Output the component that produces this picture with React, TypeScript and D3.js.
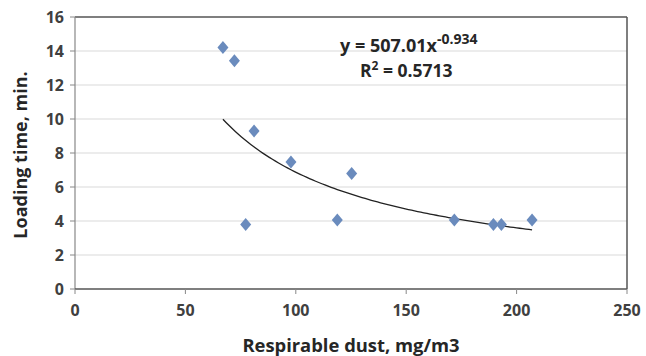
import React from "react";
import * as d3 from "d3";

const dustX = [67.0, 72.2, 81.1, 97.8, 77.3, 125.3, 118.8, 171.8, 189.5, 193.1, 207.0];
const loadY = [14.2, 13.43, 9.29, 7.47, 3.8, 6.8, 4.06, 4.06, 3.8, 3.8, 4.06];
const xTicks = [0, 50, 100, 150, 200, 250];
const yTicks = [0, 2, 4, 6, 8, 10, 12, 14, 16];
const fitA = 507.01;
const fitB = -0.934;

const W = 646, H = 356;
const FONT = "'Open Sans', Lato, sans-serif";

export default function App() {
  const x = d3.scaleLinear().domain([0, 250]).range([75, 627]);
  const y = d3.scaleLinear().domain([0, 16]).range([289, 17]);
  const xmin = d3.min(dustX)!, xmax = d3.max(dustX)!;
  const fitPts = d3.range(0, 101).map(i => {
    const xv = xmin + (xmax - xmin) * i / 100;
    return [xv, fitA * Math.pow(xv, fitB)] as [number, number];
  });
  const line = d3.line<[number, number]>().x(d => x(d[0])).y(d => y(d[1])).curve(d3.curveLinear);
  const diamond = (cx: number, cy: number) => `M${cx},${cy - 6.5}L${cx + 5.5},${cy}L${cx},${cy + 6.5}L${cx - 5.5},${cy}Z`;
  return (
    <svg width={W} height={H} style={{ position: "absolute", left: 0, top: 0, background: "#fff" }}>
      <rect x={0} y={0} width={W} height={H} fill="#fff" />
      {yTicks.filter(t => t > 0).map(t => (
        <line key={"g" + t} x1={x(0)} x2={x(250)} y1={y(t)} y2={y(t)} stroke={t === 16 ? "#555" : "#d9d9d9"} strokeWidth={t === 16 ? 1.5 : 1} />
      ))}
      <line x1={x(250)} x2={x(250)} y1={y(16)} y2={y(0)} stroke="#555" strokeWidth={1.5} />
      <line x1={x(0)} x2={x(0)} y1={y(16)} y2={y(0)} stroke="#888" strokeWidth={1.2} />
      <line x1={x(0)} x2={x(250)} y1={y(0)} y2={y(0)} stroke="#555" strokeWidth={1.5} />
      {yTicks.map(t => (
        <g key={"y" + t}>
          <line x1={x(0) - 5} x2={x(0)} y1={y(t)} y2={y(t)} stroke="#888" />
          <text x={x(0) - 11} y={y(t)} dy="0.36em" textAnchor="end" fontFamily={FONT} fontWeight="bold" fontSize={16} fill="#404040">{t}</text>
        </g>
      ))}
      {xTicks.map(t => (
        <g key={"x" + t}>
          <line x1={x(t)} x2={x(t)} y1={y(0)} y2={y(0) + 5} stroke="#888" />
          <text x={x(t)} y={y(0) + 27} textAnchor="middle" fontFamily={FONT} fontWeight="bold" fontSize={16} fill="#404040">{t}</text>
        </g>
      ))}
      <path d={line(fitPts)!} fill="none" stroke="#222" strokeWidth={1.3} />
      {dustX.map((xv, i) => (
        <path key={"p" + i} d={diamond(x(xv), y(loadY[i]))} fill="#6a8bbd" />
      ))}
      <text x={340} y={52} fontFamily={FONT} fontWeight="bold" fontSize={18} fill="#262626">
        y = 507.01x<tspan dy={-8} fontSize={14}>-0.934</tspan>
      </text>
      <text x={360} y={77} fontFamily={FONT} fontWeight="bold" fontSize={17.5} fill="#262626">
        R<tspan dy={-7} fontSize={12}>2</tspan><tspan dy={7}> = 0.5713</tspan>
      </text>
      <text x={351} y={352} textAnchor="middle" fontFamily={FONT} fontWeight="bold" fontSize={18.4} fill="#262626">Respirable dust, mg/m3</text>
      <text transform={`translate(27,155) rotate(-90)`} textAnchor="middle" fontFamily={FONT} fontWeight="bold" fontSize={18} fill="#262626">Loading time, min.</text>
    </svg>
  );
}
